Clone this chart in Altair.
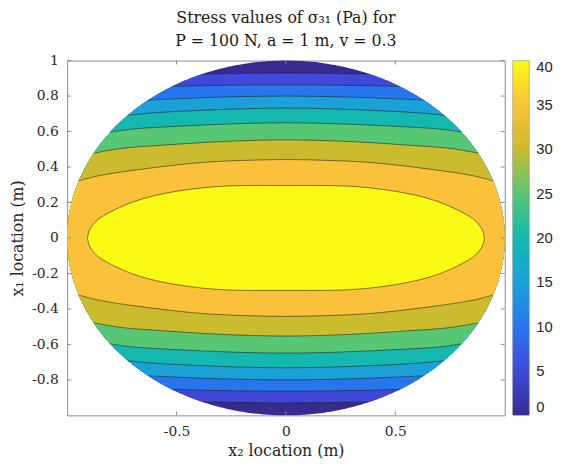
import numpy as np
import pandas as pd
import altair as alt

# ---- data ----
levels = [0, 5, 10, 15, 20, 25, 30, 35, 40]
band_colors = ["#372B90", "#4048DA", "#2876EE", "#1BA1D8", "#15B8AE",
               "#58C774", "#CBBB2E", "#FCC13B", "#F9FA14"]

x_ticks = [-0.5, 0.0, 0.5]
y_ticks = [-0.8, -0.6, -0.4, -0.2, 0.0, 0.2, 0.4, 0.6, 0.8, 1.0]

# contour lines, upper branch (x1 > 0); the field is symmetric about x1 = 0
c1_x2 = [-0.38, -0.18, 0.0, 0.18, 0.38]
c1_x1 = [0.924, 0.928, 0.930, 0.928, 0.924]
c2_x2 = [-0.52, -0.35, -0.18, 0.0, 0.18, 0.35, 0.52]
c2_x1 = [0.854, 0.859, 0.862, 0.863, 0.862, 0.859, 0.854]
c3_x2 = [-0.63, -0.45, -0.324, -0.15, 0.0, 0.15, 0.324, 0.45, 0.63]
c3_x1 = [0.777, 0.787, 0.793, 0.798, 0.800, 0.798, 0.793, 0.787, 0.777]
c4_x2 = [-0.722, -0.6, -0.4, -0.2, 0.0, 0.2, 0.4, 0.6, 0.722]
c4_x1 = [0.692, 0.706, 0.719, 0.728, 0.732, 0.728, 0.719, 0.706, 0.692]
c5_x2 = [-0.802, -0.7, -0.474, -0.25, 0.0, 0.25, 0.474, 0.7, 0.802]
c5_x1 = [0.597, 0.614, 0.631, 0.643, 0.649, 0.643, 0.631, 0.614, 0.597]
c6_x2 = [-0.878, -0.75, -0.55, -0.3, 0.0, 0.3, 0.55, 0.75, 0.878]
c6_x1 = [0.478, 0.505, 0.524, 0.543, 0.553, 0.543, 0.524, 0.505, 0.478]
c7_x2 = [-0.947, -0.85, -0.7, -0.4, -0.2, 0.0, 0.2, 0.4, 0.7, 0.85, 0.947]
c7_x1 = [0.322, 0.352, 0.381, 0.424, 0.437, 0.442, 0.437, 0.424, 0.381, 0.352, 0.322]
c8_x2 = [-0.907, -0.9, -0.887, -0.86, -0.82, -0.70, -0.55, -0.324, 0.0,
         0.324, 0.55, 0.70, 0.82, 0.86, 0.887, 0.9, 0.907]
c8_x1 = [0.0, 0.038, 0.068, 0.103, 0.135, 0.203, 0.252, 0.289, 0.296,
         0.289, 0.252, 0.203, 0.135, 0.103, 0.068, 0.038, 0.0]

contours = [(c1_x2, c1_x1), (c2_x2, c2_x1), (c3_x2, c3_x1), (c4_x2, c4_x1),
            (c5_x2, c5_x1), (c6_x2, c6_x1), (c7_x2, c7_x1), (c8_x2, c8_x1)]

# domain: disk of radius a = 1 m
a_radius = 1.0
theta = np.linspace(0, np.pi, 361)
circ_x = -a_radius * np.cos(theta)
circ_y = a_radius * np.sin(theta)

# ---- build tables ----
area_rows = []
for x, y in zip(circ_x, circ_y):
    area_rows.append({"band": 0, "level": levels[0], "x2": x, "x1": y, "x1b": -y})
for k, (xs, ys) in enumerate(contours, start=1):
    if k < 8:
        for x, y in zip(circ_x, circ_y):
            if x < xs[0] or x > xs[-1]:
                area_rows.append({"band": k, "level": levels[k], "x2": x, "x1": y, "x1b": -y})
    for x, y in zip(xs, ys):
        area_rows.append({"band": k, "level": levels[k], "x2": x, "x1": y, "x1b": -y})
area_df = pd.DataFrame(area_rows).sort_values(["band", "x2"]).reset_index(drop=True)

line_rows = []
for k, (xs, ys) in enumerate(contours, start=1):
    for x, y in zip(xs, ys):
        line_rows.append({"line": f"c{k}u", "x2": x, "x1": y})
        line_rows.append({"line": f"c{k}l", "x2": x, "x1": -y})
line_df = pd.DataFrame(line_rows)

xt_df = pd.DataFrame({"x2": x_ticks})
yt_df = pd.DataFrame({"x1": y_ticks})

W, H = 444, 360
SERIF = "DejaVu Serif"
TXT = "#262626"

xscale = alt.Scale(domain=[-1, 1], nice=False, zero=False)
yscale = alt.Scale(domain=[-1, 1], nice=False, zero=False)

X = alt.X("x2:Q", scale=xscale, axis=alt.Axis(
    values=x_ticks, labelExpr="'' + datum.value", title="x₂ location (m)",
    labelFont=SERIF, labelFontSize=14, labelColor=TXT, labelPadding=9,
    labelOverlap=False,
    titleFont=SERIF, titleFontSize=16, titleFontWeight="normal", titleColor=TXT,
    titlePadding=5))
Y = alt.Y("x1:Q", scale=yscale, axis=alt.Axis(
    values=y_ticks, labelExpr="'' + datum.value", title="x₁ location (m)",
    labelFont=SERIF, labelFontSize=14, labelColor=TXT, labelPadding=9,
    labelOverlap=False,
    titleFont=SERIF, titleFontSize=16, titleFontWeight="normal", titleColor=TXT,
    titlePadding=6))

color = alt.Color("level:Q",
                  scale=alt.Scale(domain=levels, range=band_colors, interpolate="rgb"),
                  legend=alt.Legend(title=None, values=levels, gradientLength=H,
                                    gradientThickness=17, gradientStrokeColor="#999",
                                    gradientStrokeWidth=0.6, labelFont="Liberation Sans",
                                    labelFontSize=15, labelColor=TXT, labelOffset=7,
                                    labelBaseline="middle", labelOverlap=False,
                                    offset=8, padding=0, direction="vertical",
                                    orient="right"))

layers = []
for k in range(9):
    layers.append(
        alt.Chart(area_df).transform_filter(alt.datum.band == k)
        .mark_area(interpolate="catmull-rom")
        .encode(x=X, y=Y, y2="x1b:Q", color=color)
    )

lines = alt.Chart(line_df).mark_line(interpolate="catmull-rom", color="#1a1a1a",
                                     strokeWidth=0.65, opacity=0.85).encode(
    x=X, y=Y, detail="line:N")

tick_color = "#8c8c8c"
tb = alt.Chart(xt_df).mark_rule(color=tick_color).encode(x=X, y=alt.value(H), y2=alt.value(H - 4))
tt = alt.Chart(xt_df).mark_rule(color=tick_color).encode(x=X, y=alt.value(0), y2=alt.value(4))
tl = alt.Chart(yt_df).mark_rule(color=tick_color).encode(y=Y, x=alt.value(0), x2=alt.value(4))
tr = alt.Chart(yt_df).mark_rule(color=tick_color).encode(y=Y, x=alt.value(W), x2=alt.value(W - 4))

chart = alt.layer(*layers, lines, tb, tt, tl, tr).properties(
    width=W, height=H,
    title=alt.TitleParams(["Stress values of σ₃₁ (Pa) for", "P = 100 N, a = 1 m, v = 0.3"],
                          font=SERIF, fontSize=16, fontWeight="normal", color="#1a1a1a",
                          anchor="middle", offset=5, lineHeight=23),
    autosize=alt.AutoSizeParams(type="none"),
    padding={"left": 60, "top": 50, "right": 50, "bottom": 46},
).configure_view(stroke="#8c8c8c", strokeWidth=1).configure_axis(
    grid=False, ticks=False, domain=False)

chart.save("out.html", embed_options={"renderer": "svg", "actions": False})
